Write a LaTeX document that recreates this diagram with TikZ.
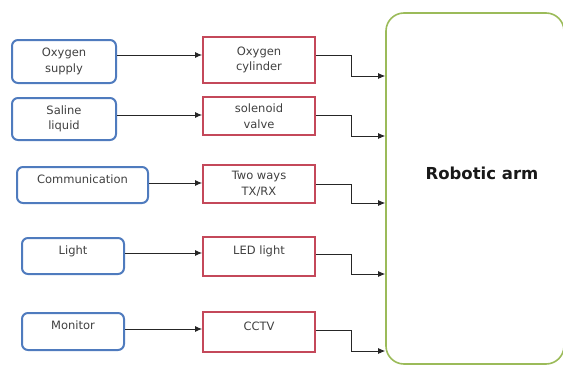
\documentclass[tikz,border=0pt]{standalone}
\usepackage{fontspec}
\setmainfont{DejaVu Sans}
\usetikzlibrary{arrows.meta}

\definecolor{azzurro}{HTML}{4F7BBE}
\definecolor{rosso}{HTML}{C4485A}
\definecolor{verde}{HTML}{9BBB59}

\begin{document}
\begin{tikzpicture}[
        x=1pt, y=-1pt,
        >={Latex[length=7pt,width=6pt]},
        every node/.style={font=\fontsize{11.5}{15.5}\selectfont, text=black!75, align=center, inner sep=0pt},
        ingresso/.style={draw=azzurro, line width=2pt, rounded corners=6pt},
        modulo/.style={draw=rosso, line width=1.8pt, minimum width=112pt},
        unariga/.style={text depth=12pt},
        filo/.style={->, line width=0.9pt, black!85}
    ]

        \useasboundingbox (0,0) rectangle (563,367);

        % Sorgenti
        \node[ingresso, minimum width=104pt, minimum height=43pt] (ossigeno) at (64,61.5) {Oxygen\\supply};
        \node[ingresso, minimum width=104pt, minimum height=42pt] (salina) at (64,119) {Saline\\liquid};
        \node[ingresso, unariga, minimum width=131pt, minimum height=36pt] (comunicazione) at (82.5,185) {Communication};
        \node[ingresso, unariga, minimum width=102pt, minimum height=36pt] (luce) at (73,256) {Light};
        \node[ingresso, unariga, minimum width=102pt, minimum height=37pt] (monitor) at (73,331.5) {Monitor};

        % Dispositivi
        \node[modulo, minimum height=46pt] (bombola) at (259,60) {Oxygen\\cylinder};
        \node[modulo, minimum height=38pt] (valvola) at (259,116) {solenoid\\valve};
        \node[modulo, minimum height=38pt] (txrx) at (259,184) {Two ways\\TX/RX};
        \node[modulo, unariga, minimum height=39pt] (led) at (259,256.5) {LED light};
        \node[modulo, unariga, minimum height=40pt] (cctv) at (259,332) {CCTV};

        % Braccio
        \node[draw=verde, line width=1.6pt, rounded corners=18pt,
              minimum width=178pt, minimum height=351pt] (braccio) at (475,188.5) {};
        \node[font=\bfseries\fontsize{16.5}{20}\selectfont, text=black!90] (titolo) at (482,173) {Robotic arm};

        % Collegamenti sorgente -> dispositivo
        \draw[filo] (ossigeno.east |- 0,55) -- (bombola.west |- 0,55);
        \draw[filo] (salina.east |- 0,115) -- (valvola.west |- 0,115);
        \draw[filo] (comunicazione.east |- 0,183) -- (txrx.west |- 0,183);
        \draw[filo] (luce.east |- 0,253) -- (led.west |- 0,253);
        \draw[filo] (monitor.east |- 0,329) -- (cctv.west |- 0,329);

        % Collegamenti dispositivo -> braccio
        \draw[filo] (bombola.east |- 0,55) -| (351,76) -- (braccio.west |- 0,76);
        \draw[filo] (valvola.east |- 0,115) -| (351,136) -- (braccio.west |- 0,136);
        \draw[filo] (txrx.east |- 0,184) -| (351,203) -- (braccio.west |- 0,203);
        \draw[filo] (led.east |- 0,254) -| (351,274) -- (braccio.west |- 0,274);
        \draw[filo] (cctv.east |- 0,330) -| (351,351) -- (braccio.west |- 0,351);

    \end{tikzpicture}
\end{document}
